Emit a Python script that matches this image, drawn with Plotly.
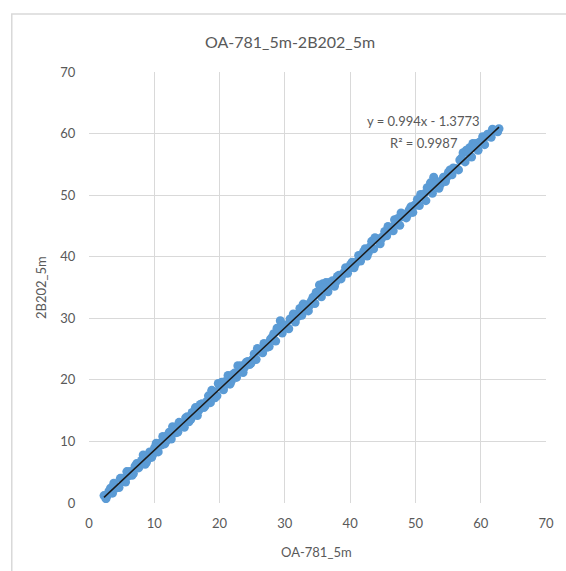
import plotly.graph_objects as go

# Scatter data (OA-781_5m vs 2B202_5m)
x_a = [2.3, 2.8, 3.3, 3.8, 4.3, 4.8, 5.3, 5.8, 6.3, 6.8, 7.3, 7.8, 8.3, 8.8, 9.3, 9.8,
       10.3, 10.8, 11.3, 11.8, 12.3, 12.8, 13.3, 13.8, 14.3, 14.8, 15.3, 15.8, 16.3, 16.8,
       17.3, 17.8, 18.3, 18.8, 19.3, 19.8, 20.3, 20.8, 21.3, 21.8, 22.3, 22.8, 23.3, 23.8,
       24.3, 24.8, 25.3, 25.8, 26.3, 26.8, 27.3, 27.8, 28.3, 28.8, 29.3, 29.8, 30.3, 30.8,
       31.3, 31.8, 32.3, 32.8, 33.3, 33.8, 34.3, 34.8, 35.3, 35.8, 36.3, 36.8, 37.3, 37.8,
       38.3, 38.8, 39.3, 39.8, 40.3, 40.8, 41.3, 41.8, 42.3, 42.8, 43.3, 43.8, 44.3, 44.8,
       45.3, 45.8, 46.3, 46.8, 47.3, 47.8, 48.3, 48.8, 49.3, 49.8, 50.3, 50.8, 51.3, 51.8,
       52.3, 52.8, 53.3, 53.8, 54.3, 54.8, 55.3, 55.8, 56.3, 56.8, 57.3, 57.8, 58.3, 58.8,
       59.3, 59.8, 60.3, 60.8, 61.3, 61.8, 62.3, 62.8]
y_a = [1.2, 1.2, 2.4, 3.2, 2.6, 4.0, 3.5, 5.1, 5.1, 4.8, 6.4, 6.1, 7.8, 6.6, 8.3, 7.9,
       9.7, 9.7, 10.8, 10.0, 11.5, 12.4, 11.4, 13.1, 12.7, 13.8, 13.2, 14.7, 15.5, 15.0,
       16.1, 15.8, 17.4, 18.3, 17.1, 19.4, 19.6, 19.7, 20.7, 19.8, 21.1, 22.3, 22.3, 22.0,
       23.0, 22.7, 24.2, 25.1, 24.6, 25.9, 25.3, 26.6, 27.5, 28.4, 29.6, 28.7, 28.5, 29.9,
       30.7, 30.6, 31.6, 32.3, 32.2, 32.1, 33.4, 34.2, 35.4, 35.6, 35.8, 35.8, 36.1, 35.9,
       37.0, 37.0, 38.2, 38.1, 39.1, 38.8, 40.2, 40.2, 41.3, 40.7, 42.5, 43.1, 42.9, 42.9,
       44.1, 44.9, 44.8, 46.0, 46.2, 47.1, 46.9, 46.8, 48.1, 48.3, 49.3, 50.1, 50.2, 51.2,
       52.0, 52.9, 52.1, 51.7, 52.9, 52.9, 54.1, 54.4, 54.3, 55.7, 56.9, 57.3, 57.7, 58.4,
       58.4, 58.6, 59.5, 59.5, 59.8, 60.7, 60.5, 60.8]
x_b = [2.6, 3.6, 4.6, 5.6, 6.6, 7.6, 8.6, 9.6, 10.6, 11.6, 12.6, 13.6, 14.6, 15.6, 16.6,
       17.6, 18.6, 19.6, 20.6, 21.6, 22.6, 23.6, 24.6, 25.6, 26.6, 27.6, 28.6, 29.6, 30.6,
       31.6, 32.6, 33.6, 34.6, 35.6, 36.6, 37.6, 38.6, 39.6, 40.6, 41.6, 42.6, 43.6, 44.6,
       45.6, 46.6, 47.6, 48.6, 49.6, 50.6, 51.6, 52.6, 53.6, 54.6, 55.6, 56.6, 57.6, 58.6,
       59.6, 60.6, 61.6, 62.6]
y_b = [0.7, 1.6, 2.5, 3.4, 4.5, 5.7, 6.3, 7.4, 8.3, 9.6, 10.4, 11.5, 12.3, 13.6, 14.2,
       15.5, 16.3, 17.4, 18.4, 19.3, 20.4, 21.2, 22.5, 23.3, 24.4, 25.4, 26.3, 27.6, 28.3,
       29.4, 30.5, 31.2, 32.4, 33.5, 34.3, 35.2, 36.4, 37.3, 38.2, 39.3, 40.1, 41.3, 42.1,
       43.4, 44.2, 45.1, 46.3, 47.2, 48.3, 49.1, 50.3, 51.1, 52.2, 53.3, 54.1, 55.4, 56.2,
       57.3, 58.2, 59.4, 60.3]
x_c = [3.05, 4.05, 5.05, 6.05, 7.05, 8.05, 9.05, 10.05, 11.05, 12.05, 13.05, 14.05, 15.05,
       16.05, 17.05, 18.05, 19.05, 20.05, 21.05, 22.05, 23.05, 24.05, 25.05, 26.05, 27.05,
       28.05, 29.05, 30.05, 31.05, 32.05, 33.05, 34.05, 35.05, 36.05, 37.05, 38.05, 39.05,
       40.05, 41.05, 42.05, 43.05, 44.05, 45.05, 46.05, 47.05, 48.05, 49.05, 50.05, 51.05,
       52.05, 53.05, 54.05, 55.05, 56.05, 57.05, 58.05, 59.05, 60.05, 61.05, 62.05]
y_c = [1.9, 2.4, 4.0, 4.4, 6.0, 6.9, 7.3, 9.0, 9.4, 11.0, 11.9, 12.4, 14.0,
       14.4, 16.0, 16.5, 18.1, 18.9, 19.3, 20.9, 21.3, 22.8, 23.3, 24.9, 25.4,
       26.9, 28.4, 28.9, 29.8, 30.3, 31.9, 32.8, 34.3, 35.0, 35.4, 36.8, 37.4,
       38.7, 39.2, 40.8, 41.6, 42.8, 43.3, 44.7, 45.6, 46.5, 47.6, 48.4, 49.8,
       51.0, 51.6, 52.4, 53.7, 54.3, 56.0, 56.9, 57.8, 58.7, 59.9, 60.5]

slope = 0.994
intercept = -1.3773
r_squared = 0.9987
trend_x = [2.3, 62.8]

title_text = "OA-781_5m-2B202_5m"
x_title = "OA-781_5m"
y_title = "2B202_5m"
tick_vals = [0, 10, 20, 30, 40, 50, 60, 70]

xs = x_a + x_b + x_c
ys = y_a + y_b + y_c
trend_y = [slope * v + intercept for v in trend_x]

text_col = "#595959"
grid_col = "#D9D9D9"
font_fam = "Lato, 'Open Sans', sans-serif"

fig = go.Figure()
fig.add_trace(go.Scatter(x=xs, y=ys, mode="markers",
                         marker=dict(color="#5B9BD5", size=9, line=dict(width=0)),
                         showlegend=False, hoverinfo="skip"))
fig.add_trace(go.Scatter(x=trend_x, y=trend_y, mode="lines",
                         line=dict(color="#1a1a1a", width=1.5),
                         showlegend=False, hoverinfo="skip"))

axis_common = dict(range=[0, 70], tickvals=tick_vals, showgrid=True, gridcolor=grid_col,
                   gridwidth=1, zeroline=False, showline=False,
                   tickfont=dict(family=font_fam, size=13, color=text_col),
                   ticks="outside", tickcolor="rgba(0,0,0,0)", fixedrange=True)

fig.update_xaxes(**axis_common, ticklen=8)
fig.update_yaxes(**axis_common, ticklen=10)

fig.update_layout(
    width=566, height=571,
    margin=dict(l=89, r=16, t=72, b=68),
    plot_bgcolor="white", paper_bgcolor="white",
    font=dict(family=font_fam, color=text_col),
    annotations=[
        dict(text=title_text, xref="paper", yref="paper", x=0.44, y=1.07,
             showarrow=False, font=dict(size=16, color=text_col), xanchor="center", yanchor="middle"),
        dict(text=x_title, xref="paper", yref="paper", x=0.497, y=-0.114,
             showarrow=False, font=dict(size=13, color=text_col), xanchor="center", yanchor="middle"),
        dict(text=y_title, xref="paper", yref="paper", x=-0.106, y=0.5,
             showarrow=False, textangle=-90, font=dict(size=13, color=text_col),
             xanchor="center", yanchor="middle"),
        dict(text=f"y = {slope}x - {abs(intercept)}", xref="x", yref="y", x=51.3, y=62.0,
             showarrow=False, font=dict(size=13, color=text_col), xanchor="center", yanchor="middle"),
        dict(text=f"R² = {r_squared}", xref="x", yref="y", x=51.3, y=58.5,
             showarrow=False, font=dict(size=13, color=text_col), xanchor="center", yanchor="middle"),
    ],
    shapes=[
        dict(type="rect", xref="paper", yref="paper", x0=-0.169, x1=1.2, y0=-0.3, y1=1.1346,
             line=dict(color="#D9D9D9", width=1.5), fillcolor="rgba(0,0,0,0)", layer="below"),
    ],
)

fig.write_html("out.html")
